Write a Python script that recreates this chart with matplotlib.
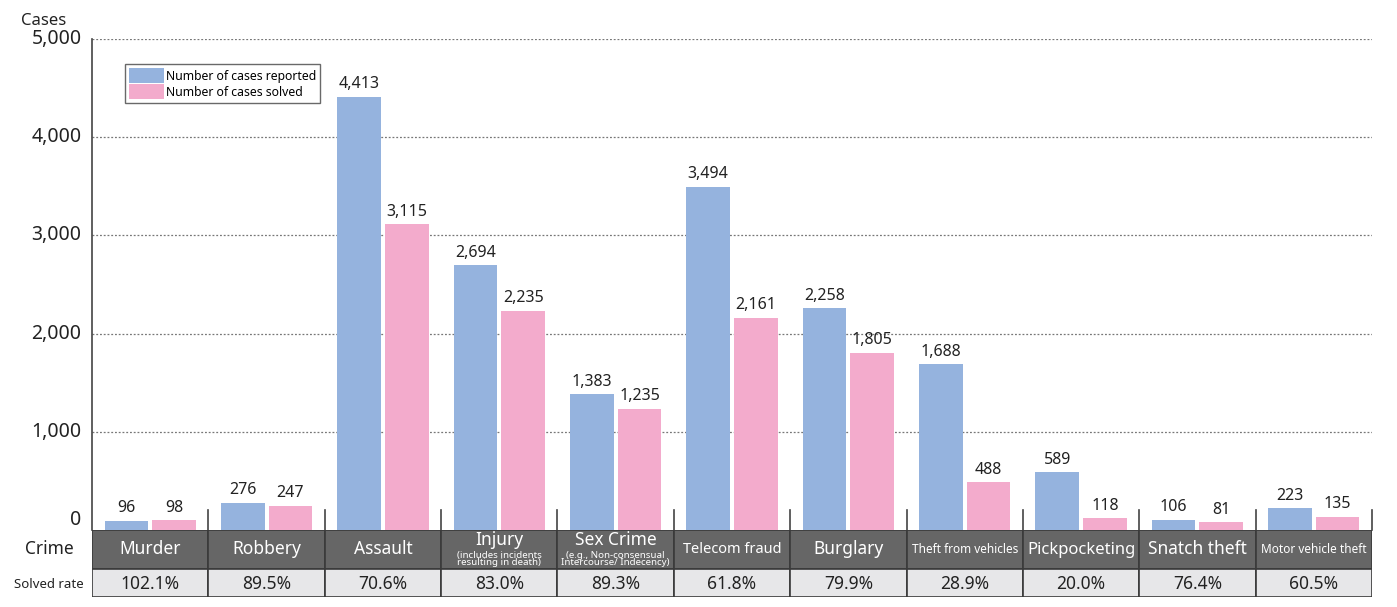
import matplotlib
matplotlib.use("Agg")
import matplotlib.pyplot as plt
from matplotlib.patches import Rectangle

plt.rcParams['font.family'] = ['Noto Sans', 'DejaVu Sans']

crimes = ["Murder", "Robbery", "Assault", "Injury", "Sex Crime", "Telecom fraud",
          "Burglary", "Theft from vehicles", "Pickpocketing", "Snatch theft",
          "Motor vehicle theft"]
crime_notes = ["", "", "", "(includes incidents\nresulting in death)",
               "(e.g., Non-consensual\nIntercourse/ Indecency)", "", "", "", "", "", ""]
reported = [96, 276, 4413, 2694, 1383, 3494, 2258, 1688, 589, 106, 223]
solved = [98, 247, 3115, 2235, 1235, 2161, 1805, 488, 118, 81, 135]
solved_rate = [102.1, 89.5, 70.6, 83.0, 89.3, 61.8, 79.9, 28.9, 20.0, 76.4, 60.5]
yticks = [0, 1000, 2000, 3000, 4000, 5000]

BLUE = '#95b3de'
PINK = '#f3abcc'
# names that the original sets in a condensed face
label_size = {"Telecom fraud": 10.5, "Theft from vehicles": 8.5,
              "Motor vehicle theft": 8.5, "Pickpocketing": 12}

W, H = 1397, 607
fig = plt.figure(figsize=(W / 100, H / 100), dpi=100)
left, right = 92 / W, 1372 / W
ax = fig.add_axes([left, 1 - 530 / H, right - left, (530 - 39) / H])

n = len(crimes)
xs = [i + 0.5 for i in range(n)]
bw = 0.375
off = 0.205
b1 = ax.bar([x - off for x in xs], reported, bw, color=BLUE, label="Number of cases reported", zorder=3)
b2 = ax.bar([x + off for x in xs], solved, bw, color=PINK, label="Number of cases solved", zorder=3)
for bars, vals in ((b1, reported), (b2, solved)):
    for b, v in zip(bars, vals):
        ax.text(b.get_x() + b.get_width() / 2, v + 45, f"{v:,}", ha='center', va='bottom',
                fontsize=11.5, color='#222222')

ax.set_xlim(0, n)
ax.set_ylim(0, 5000)
for y in yticks[1:]:
    ax.axhline(y, color='#777777', lw=0.9, ls=(0, (1.5, 1.5)), zorder=1)
for s in ('top', 'right', 'bottom'):
    ax.spines[s].set_visible(False)
ax.spines['left'].set_color('#444444')
ax.spines['left'].set_linewidth(1.2)
ax.set_xticks([])
ax.set_yticks([])
for y in yticks:
    ax.text(-0.09, y, f"{y:,}", ha='right', va='bottom' if y == 0 else 'center',
            fontsize=14, color='#222222')
ax.text(-0.22, 5100, "Cases", ha='right', va='bottom', fontsize=12, color='#222222')
# small separators above the axis
for i in range(1, n + 1):
    ax.plot([i, i], [0, 200], color='#444444', lw=1.2, zorder=4, clip_on=False)

leg = ax.legend(loc='upper left', bbox_to_anchor=(0.026, 0.949), borderaxespad=0,
                fontsize=8.8, frameon=True, fancybox=False, edgecolor='#444444',
                handlelength=2.9, handleheight=1.6, handletextpad=0.12,
                borderpad=0.3, labelspacing=0.02)
leg.get_frame().set_linewidth(1.0)

# table under the chart
tab = fig.add_axes([left, 1 - 597 / H, right - left, (597 - 530) / H])
tab.set_xlim(0, n)
tab.set_ylim(0, 67)
tab.axis('off')
for i in range(n):
    tab.add_patch(Rectangle((i, 28), 1, 39, facecolor='#666666', edgecolor='#3a3a3a', lw=1.2))
    tab.add_patch(Rectangle((i, 0), 1, 28, facecolor='#e7e7e9', edgecolor='#3a3a3a', lw=1.2))
    name = crimes[i]
    if crime_notes[i]:
        tab.text(i + 0.5, 57, name, ha='center', va='center', color='white', fontsize=12.5)
        tab.text(i + 0.5, 38, crime_notes[i], ha='center', va='center', color='white',
                 fontsize=7, linespacing=0.85)
    else:
        tab.text(i + 0.5, 47.5, name, ha='center', va='center', color='white',
                 fontsize=label_size.get(name, 12.5))
    tab.text(i + 0.5, 13, f"{solved_rate[i]:.1f}%", ha='center', va='center',
             color='#222222', fontsize=12.5)
tab.text(-0.37, 47.5, "Crime", ha='center', va='center', fontsize=12.5, color='#222222')
tab.text(-0.37, 13, "Solved rate", ha='center', va='center', fontsize=9.5, color='#222222')

fig.savefig("out.png", dpi=100)
